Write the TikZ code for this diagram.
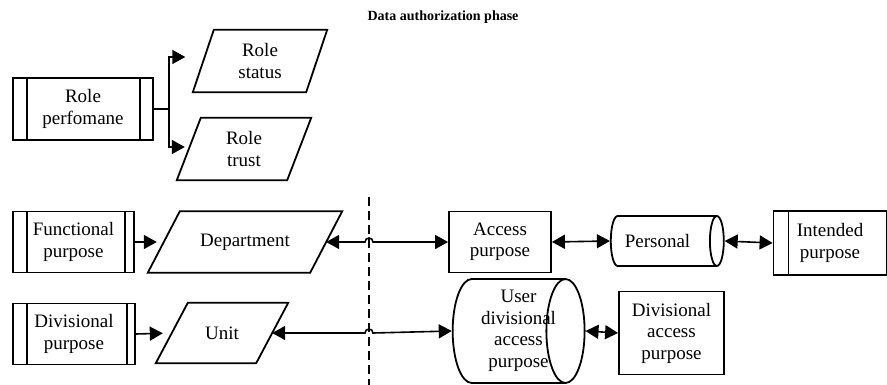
\documentclass[tikz,border=0pt]{standalone}
\usepackage{fontspec}
\setmainfont{Liberation Serif}
\usetikzlibrary{shapes.geometric,arrows.meta}
\tikzset{procbox/.style={rectangle,draw=black,line width=1.8pt,align=center,inner sep=2pt,
  path picture={
    \draw[line width=1.8pt] ([xshift=14pt]path picture bounding box.north west) -- ([xshift=14pt]path picture bounding box.south west);
    \draw[line width=1.8pt] ([xshift=-#1]path picture bounding box.north east) -- ([xshift=-#1]path picture bounding box.south east);}},
  procbox/.default=13pt}
\tikzstyle{leftbar}=[rectangle,draw=black,line width=1.8pt,align=center,inner sep=2pt,
  path picture={\draw[line width=1.8pt] ([xshift=15pt]path picture bounding box.north west) -- ([xshift=15pt]path picture bounding box.south west);}]
\tikzstyle{para}=[rectangle,align=center,inner sep=2pt]
\tikzstyle{box}=[rectangle,draw=black,line width=1.8pt,align=center,inner sep=2pt]
% the cylinder gets phantom text for its size; the visible text is a node of its own
\tikzstyle{store}=[cylinder,draw=black,line width=1.8pt,align=center,inner sep=2pt]
\tikzstyle{conn}=[line width=1.6pt,-{Triangle[length=13pt,width=14pt]}]
\tikzstyle{dconn}=[line width=1.6pt,{Triangle[length=13pt,width=14pt]}-{Triangle[length=13pt,width=14pt]}]
% slanted outline round a node: #1 node, #2 half of the slant
\newcommand{\slantbox}[2]{\draw[line width=1.8pt] ([xshift=-#2]#1.south west) -- ([xshift=#2]#1.north west) -- ([xshift=#2]#1.north east) -- ([xshift=-#2]#1.south east) -- cycle;}

\begin{document}
\begin{tikzpicture}[x=1pt,y=-1pt,font=\fontsize{19}{21.5}\selectfont]
\useasboundingbox (0,0) rectangle (887,385);

\node (title) at (443,17) {\fontsize{14}{16}\selectfont\bfseries Data authorization phase};

% role part
\node (rp) at (83,109) [procbox=13pt, minimum width=140pt, minimum height=62pt] {Role\\perfomane};
\node (rs) at (260,61) [para, minimum width=113pt, minimum height=62pt] {Role\\status};
\node (rt) at (244,149) [para, minimum width=110pt, minimum height=62pt] {Role\\trust};
\slantbox{rs}{10.5pt}
\slantbox{rt}{12pt}

\draw[conn, shorten >=18pt] (rp.east) -- ++(15,0) |- ([yshift=4pt]rs.west);
\draw[conn, shorten >=4pt] (rp.east) -- ++(15,0) |- ([yshift=2pt]rt.west);

% purposes
\node (fp) at (73.5,242) [procbox=9pt, minimum width=121pt, minimum height=61pt] {Functional\\purpose};
\node (dept) at (245,242) [para, minimum width=162pt, minimum height=61pt] {Department};
\slantbox{dept}{16pt}
\node (acc) at (500,242) [box, minimum width=102pt, minimum height=61pt] {Access\\purpose};
\node (pers) at (662,241) [store, aspect=0.8, minimum height=113pt, minimum width=50pt] {\phantom{Personal}};
\node (perstext) at (657.5,241) {Personal};
\node (ip) at (830,243) [leftbar, minimum width=113pt, minimum height=64pt] {Intended\\purpose};

\node (dp) at (74,334) [procbox=8pt, minimum width=122pt, minimum height=61pt] {Divisional\\purpose};
\node (unit) at (222,333) [para, minimum width=100pt, minimum height=60pt] {Unit};
\slantbox{unit}{16pt}
\node (udap) at (506,331) [store, aspect=0.45, minimum height=131pt, minimum width=104pt] {\phantom{User}\\\phantom{divisional}\\\phantom{access}\\\phantom{purpose}};
\node (udaptext) at (518.5,331) [align=center] {User\\divisional\\access\\purpose};
\node (dap) at (671.5,333) [box, minimum width=105pt, minimum height=83pt] {Divisional\\access\\purpose};

% divider
\coordinate (divtop) at (369,197);
\coordinate (divbot) at (369,385);
\draw[line width=2.8pt, dash pattern=on 9pt off 5pt] (divtop) -- (divbot);

\draw[conn, shorten >=7pt] (fp.east) -- (dept.west);
\draw[conn, shorten >=9pt] (dp.east) -- (unit.west);

\draw[dconn] (dept.east) -- ([xshift=-4pt]dept.east -| divtop) arc[start angle=180, end angle=0, radius=4pt] -- (acc.west);
\draw[dconn] (unit.east) -- ([xshift=-4pt]unit.east -| divtop) arc[start angle=180, end angle=0, radius=4pt] -- (udap.west);

\draw[dconn] (acc.east) -- (pers.west);
\draw[dconn] (pers.east) -- (ip.west);
\draw[dconn] (udap.east) -- (dap.west);
\end{tikzpicture}
\end{document}
